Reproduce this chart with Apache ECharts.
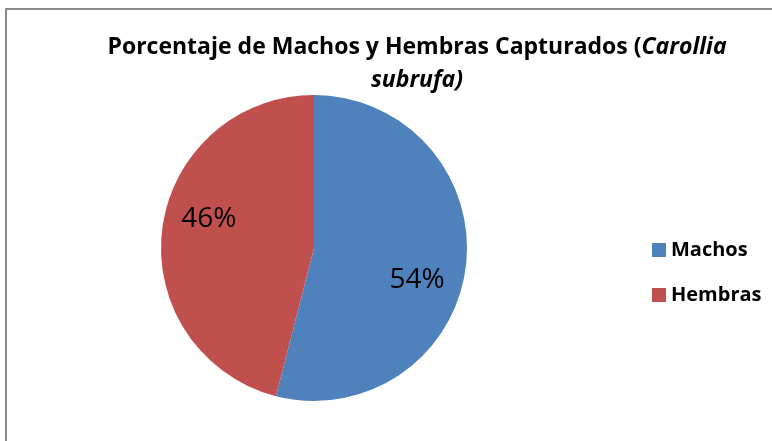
<!DOCTYPE html>
<html>
<head>
    <meta charset="utf-8">
    <title>Carollia subrufa</title>
    <script src="https://cdn.jsdelivr.net/npm/echarts@6/dist/echarts.min.js"></script>
    <style>
        body { margin: 0; background: #fff; }
        #frame { position: absolute; left: 5px; top: 8px; width: 900px; height: 600px;
                 border-left: 2px solid #8a8a8a; border-top: 2px solid #8a8a8a; }
        #main { position: absolute; left: 0; top: 0; width: 772px; height: 441px; }
    </style>
</head>
<body>
    <div id="frame"></div>
    <div id="main"></div>
<script type="text/javascript">
    var categories = ['Machos', 'Hembras'];
    var percentages = [54, 46];
    var colors = ['#4F81BD', '#C0504D'];

    var pieData = categories.map(function (name, i) {
        return { name: name, value: percentages[i], itemStyle: { color: colors[i] } };
    });
    // labels sit a bit off the default "inside" spot
    var labelShiftX = [-5, 3];
    var labelShiftY = [18, -15];

    var myChart = echarts.init(document.getElementById('main'));
    var option = {
        backgroundColor: 'transparent',
        animation: false,
        title: {
            text: 'Porcentaje de Machos y Hembras Capturados ({i|Carollia}\n{i|subrufa)}',
            left: 412,
            textAlign: 'center',
            top: 26,
            textStyle: {
                fontFamily: 'Open Sans',
                fontWeight: 'bold',
                fontSize: 23,
                lineHeight: 33,
                color: '#000',
                rich: {
                    i: { fontFamily: 'Open Sans', fontWeight: 'bold', fontStyle: 'italic', fontSize: 23, lineHeight: 33, color: '#000' }
                }
            }
        },
        legend: {
            orient: 'vertical',
            left: 652,
            top: 240,
            padding: 0,
            itemWidth: 14,
            itemHeight: 14,
            itemGap: 25,
            icon: 'rect',
            data: categories,
            textStyle: { fontFamily: 'Open Sans', fontWeight: 'bold', fontSize: 20, color: '#000' }
        },
        series: [
            {
                name: 'pie',
                type: 'pie',
                center: [314, 248],
                radius: [0, 153],
                startAngle: 90,
                clockwise: true,
                data: pieData,
                label: { show: false },
                labelLine: { show: false },
                itemStyle: { borderWidth: 0 }
            },
            {
                name: 'labels',
                type: 'pie',
                silent: true,
                center: [314, 248],
                radius: [0, 212],
                startAngle: 90,
                clockwise: true,
                data: categories.map(function (name, i) {
                    return { name: name, value: percentages[i], itemStyle: { color: 'transparent' } };
                }),
                label: {
                    show: true,
                    position: 'inside',
                    formatter: '{c}%',
                    fontFamily: 'Open Sans',
                    fontSize: 28,
                    color: '#000'
                },
                labelLayout: function (params) {
                    return { dx: labelShiftX[params.dataIndex], dy: labelShiftY[params.dataIndex] };
                },
                labelLine: { show: false },
                z: 5
            }
        ]
    };
    myChart.setOption(option);
</script>
</body>
</html>
